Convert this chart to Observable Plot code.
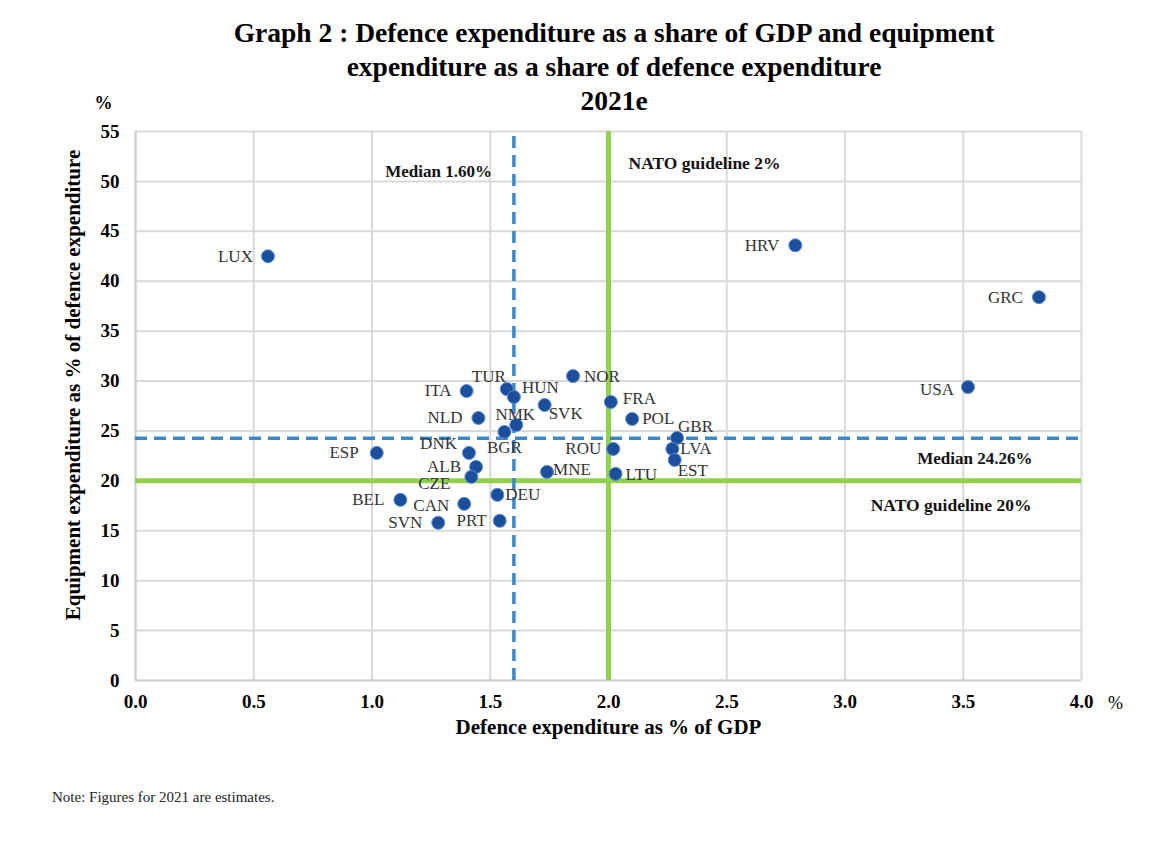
<!DOCTYPE html>
<html>
<head>
<meta charset="utf-8">
<script src="https://cdn.jsdelivr.net/npm/d3@7"></script>
<script src="https://cdn.jsdelivr.net/npm/@observablehq/plot@0.6"></script>
<style>
  html, body { margin: 0; padding: 0; background: #fff; }
  #wrap { position: relative; width: 1159px; height: 847px; overflow: hidden; font-family: "Liberation Serif", "DejaVu Serif", serif; }
  #title { position: absolute; top: 16px; left: 114px; width: 1000px; text-align: center; font-weight: bold; font-size: 27.5px; line-height: 34px; color: #000; }
  #note { position: absolute; top: 789px; left: 52px; font-size: 15px; color: #222; }
  #chart { position: absolute; top: 0; left: 0; }
</style>
</head>
<body>
<div id="wrap">
  <div id="chart"></div>
  <div id="title">Graph 2 : Defence expenditure as a share of GDP and equipment<br>expenditure as a share of defence expenditure<br>2021e</div>
  <div id="note">Note: Figures for 2021 are estimates.</div>
</div>
<script>
// ---- Data ----
const countries = ["LUX","HRV","GRC","USA","NOR","ITA","TUR","HUN","FRA","SVK","POL","NLD","NMK","BGR","GBR","DNK","ESP","ROU","LVA","EST","ALB","MNE","CZE","LTU","DEU","BEL","CAN","SVN","PRT"];
const defenceGdp = [0.56,2.79,3.82,3.52,1.85,1.40,1.57,1.60,2.01,1.73,2.10,1.45,1.61,1.56,2.29,1.41,1.02,2.02,2.27,2.28,1.44,1.74,1.42,2.03,1.53,1.12,1.39,1.28,1.54];
const equipmentShare = [42.5,43.6,38.4,29.4,30.5,29.0,29.2,28.4,27.9,27.6,26.2,26.3,25.6,24.9,24.3,22.8,22.8,23.2,23.2,22.1,21.4,20.9,20.4,20.7,18.6,18.1,17.7,15.8,16.0];
const xTicks = [0, 0.5, 1.0, 1.5, 2.0, 2.5, 3.0, 3.5, 4.0];
const yTicks = [0, 5, 10, 15, 20, 25, 30, 35, 40, 45, 50, 55];
const medianGdp = 1.60;
const medianEquipment = 24.26;
const natoGdp = 2;
const natoEquipment = 20;

// label placement lookup: [textAnchor, dx, dy]
const labelPlacement = {
  LUX:["end",-15,0], HRV:["end",-16,0], GRC:["end",-16,0], USA:["end",-14,3],
  NOR:["start",11,0], ITA:["end",-15,0], TUR:["end",-1,-12], HUN:["start",8,-9],
  FRA:["start",12,-3], SVK:["start",4,9], POL:["start",10,0], NLD:["end",-16,0],
  NMK:["middle",-1,-10], BGR:["middle",0,16], GBR:["start",1,-11], DNK:["end",-12,-9],
  ESP:["end",-18,0], ROU:["end",-12,0], LVA:["start",8,0], EST:["start",3,11],
  ALB:["end",-15,0], MNE:["start",6,-2], CZE:["end",-21,7], LTU:["start",10,1],
  DEU:["start",8,0], BEL:["end",-16,0], CAN:["end",-15,2], SVN:["end",-16,0], PRT:["end",-13,0]
};

const data = countries.map((c, i) => ({code: c, x: defenceGdp[i], y: equipmentShare[i]}));

const font = "Liberation Serif, DejaVu Serif, serif";

const labelMarks = data.map(d => {
  const [anchor, dx, dy] = labelPlacement[d.code];
  return Plot.text([d], {x: "x", y: "y", text: "code", textAnchor: anchor, dx, dy,
    fontSize: 17, fill: "#333", fontFamily: font});
});

const chart = Plot.plot({
  width: 1159,
  height: 847,
  marginTop: 131,
  marginLeft: 135,
  marginRight: 78,
  marginBottom: 167,
  style: {fontFamily: font, background: "transparent", overflow: "visible"},
  x: {domain: [0, 4], label: null},
  y: {domain: [0, 55], label: null},
  marks: [
    Plot.gridX(xTicks, {stroke: "#d9d9d9", strokeOpacity: 1, strokeWidth: 2}),
    Plot.gridY(yTicks, {stroke: "#d9d9d9", strokeOpacity: 1, strokeWidth: 2}),
    Plot.ruleX([0], {stroke: "#d0d0d0", strokeWidth: 2}),
    Plot.ruleY([0], {stroke: "#d0d0d0", strokeWidth: 2}),
    Plot.ruleY([natoEquipment], {stroke: "#92d050", strokeWidth: 5}),
    Plot.ruleX([natoGdp], {stroke: "#92d050", strokeWidth: 5}),
    Plot.ruleX([medianGdp], {stroke: "#3a87cd", strokeWidth: 3.5, strokeDasharray: "12,7", y1: 0, y2: 55}),
    Plot.ruleY([medianEquipment], {stroke: "#3a87cd", strokeWidth: 3.5, strokeDasharray: "12,7"}),
    Plot.axisX(xTicks, {tickSize: 0, tickPadding: 14, tickFormat: d3.format(".1f"), fontSize: 19, fontWeight: "bold", fill: "#000", label: null}),
    Plot.axisY(yTicks, {tickSize: 0, tickPadding: 16, fontSize: 19, fontWeight: "bold", fill: "#000", label: null}),
    Plot.dot(data, {x: "x", y: "y", r: 6.5, fill: "#1b4f9c", stroke: "#5b8bd0", strokeWidth: 1}),
    ...labelMarks,
    Plot.text(["Median 1.60%"], {x: medianGdp, y: 51.0, text: d => d, textAnchor: "end", dx: -22, fontSize: 17, fontWeight: "bold", fill: "#111"}),
    Plot.text(["NATO guideline 2%"], {x: natoGdp, y: 51.8, text: d => d, textAnchor: "start", dx: 20, fontSize: 17.5, fontWeight: "bold", fill: "#111"}),
    Plot.text(["Median 24.26%"], {x: 4, y: medianEquipment, text: d => d, textAnchor: "end", dx: -49, dy: 20, fontSize: 17, fontWeight: "bold", fill: "#111"}),
    Plot.text(["NATO guideline 20%"], {x: 4, y: natoEquipment, text: d => d, textAnchor: "end", dx: -50, dy: 25, fontSize: 17.5, fontWeight: "bold", fill: "#111"}),
    Plot.text(["%"], {x: 0, y: 55, text: d => d, dx: -32, dy: -28, fontSize: 18, fontWeight: "bold", fill: "#000"}),
    Plot.text(["%"], {x: 4, y: 0, text: d => d, dx: 34, dy: 23, fontSize: 18, fill: "#000"}),
    Plot.text(["Defence expenditure as % of GDP"], {frameAnchor: "bottom", textAnchor: "middle", text: d => d, dy: 53, fontSize: 21, fontWeight: "bold", fill: "#000"}),
    Plot.text(["Equipment expenditure as % of defence expenditure"], {frameAnchor: "left", textAnchor: "middle", text: d => d, rotate: -90, dx: -62, dy: -21, fontSize: 21, fontWeight: "bold", fill: "#000"})
  ]
});
document.getElementById("chart").appendChild(chart);
</script>
</body>
</html>
